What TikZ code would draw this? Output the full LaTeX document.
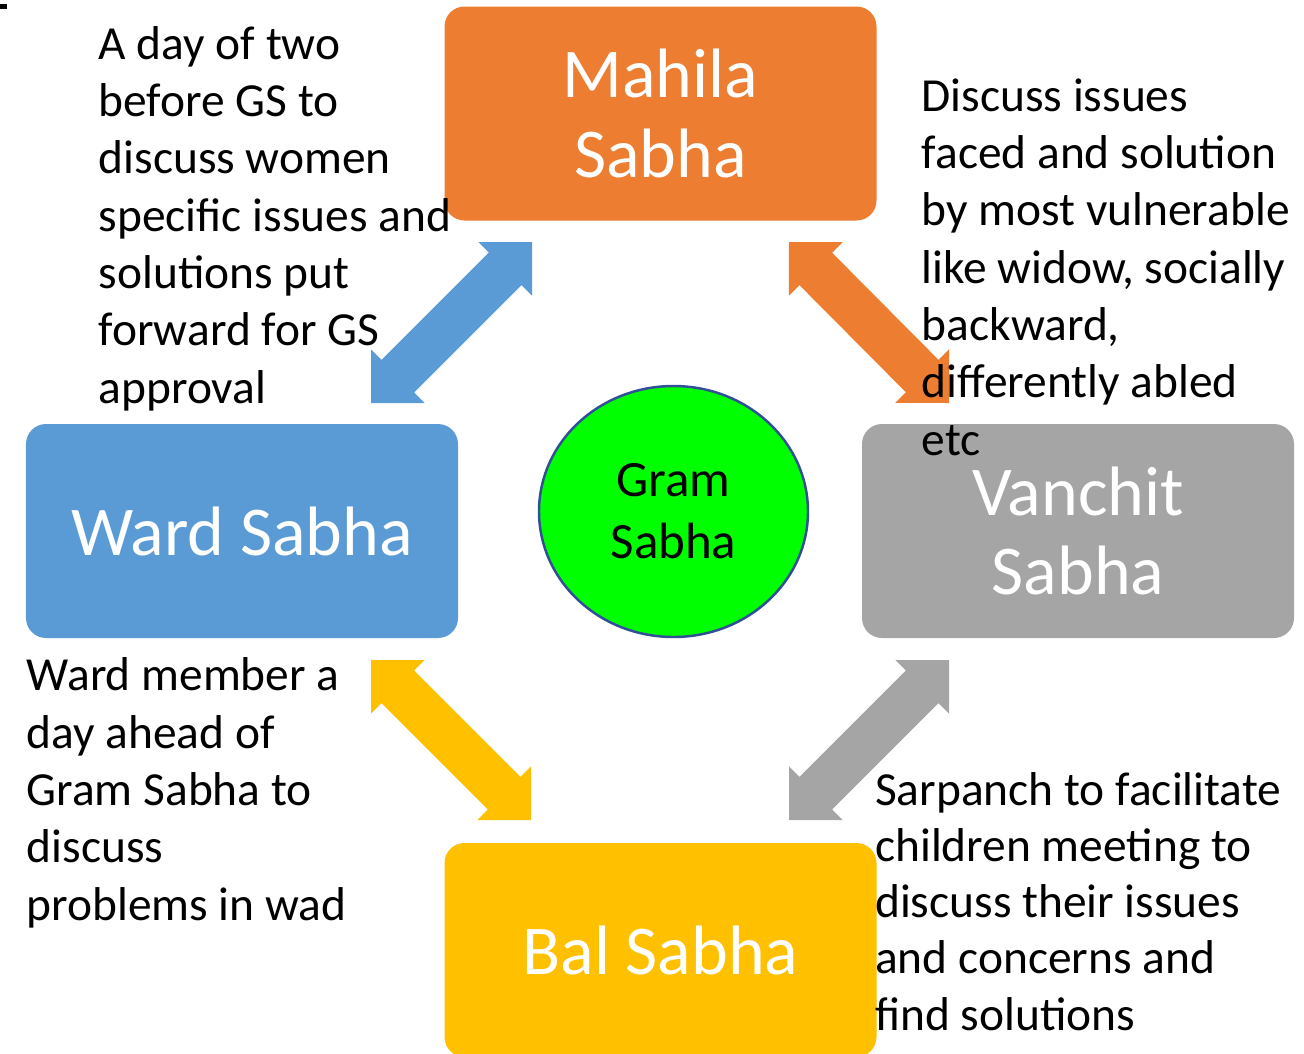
\documentclass[tikz,border=0pt]{standalone}
\usepackage{fontspec}
\setmainfont{Carlito}
\usetikzlibrary{shapes.geometric, calc}

\definecolor{mahila}{HTML}{ED7D31}
\definecolor{ward}{HTML}{5B9BD5}
\definecolor{vanchit}{HTML}{A5A5A5}
\definecolor{bal}{HTML}{FFC000}
\definecolor{hubfill}{HTML}{00FF00}
\definecolor{hubline}{HTML}{2F4F96}

% two-headed block arrow between two tip coordinates (right-angled heads)
\newcommand{\twoway}[3]{%
  \fill[#1] (#2) -- ($(#2)!0.537cm!45:(#3)$) -- ($(#2)!0.444cm!31.2:(#3)$)
    -- ($(#3)!0.444cm!-31.2:(#2)$) -- ($(#3)!0.537cm!-45:(#2)$) -- (#3)
    -- ($(#3)!0.537cm!45:(#2)$) -- ($(#3)!0.444cm!31.2:(#2)$)
    -- ($(#2)!0.444cm!-31.2:(#3)$) -- ($(#2)!0.537cm!-45:(#3)$) -- cycle;
}

\begin{document}
\begin{tikzpicture}[
    sabha/.style={rectangle, rounded corners=0.2cm, minimum width=4.32cm, minimum height=2.14cm, inner sep=0pt, align=center, text=white, font=\fontsize{19.9}{22.6}\selectfont},
    hub/.style={ellipse, draw=hubline, line width=0.7pt, fill=hubfill, minimum width=2.69cm, minimum height=2.51cm, inner sep=0pt, align=center, font=\fontsize{14.5}{17.6}\selectfont},
    note/.style={anchor=base west, inner sep=0pt, align=left, font=\fontsize{13.5}{16.3}\selectfont}
]
\useasboundingbox (0,0) rectangle (13.04,-10.53);
\fill (0,-0.04) rectangle (0.07,-0.09);

% the four sabhas
\node[sabha, fill=mahila] (mahila) at (6.605,-1.135) {Mahila\\Sabha};
\node[sabha, fill=ward] (ward) at (2.42,-5.31) {Ward Sabha};
\node[sabha, fill=vanchit] (vanchit) at (10.78,-5.31) {Vanchit\\Sabha};
\node[sabha, fill=bal] (bal) at (6.605,-9.50) {Bal Sabha};

% arrow tips
\coordinate (wm1) at (3.71,-4.03);
\coordinate (wm2) at (5.32,-2.42);
\coordinate (mv1) at (7.89,-2.42);
\coordinate (mv2) at (9.49,-4.03);
\coordinate (vb1) at (9.49,-6.60);
\coordinate (vb2) at (7.89,-8.20);
\coordinate (wb1) at (3.71,-6.60);
\coordinate (wb2) at (5.31,-8.20);

\twoway{ward}{wm1}{wm2}
\twoway{mahila}{mv1}{mv2}
\twoway{vanchit}{vb1}{vb2}
\twoway{bal}{wb1}{wb2}

\node[hub] (gram) at (6.735,-5.115) {Gram\\Sabha};

% notes beside each sabha (placed by their last baseline)
\node[note] (mahilanote) at (0.98,-4.03) {A day of two\\before GS to\\discuss women\\specific issues and\\solutions put\\forward for GS\\approval};
\node[note] (vanchitnote) at (9.21,-4.55) {Discuss issues\\faced and solution\\by most vulnerable\\like widow, socially\\backward,\\differently abled\\etc};
\node[note] (wardnote) at (0.26,-9.20) {Ward member a\\day ahead of\\Gram Sabha to\\discuss\\problems in wad};
\node[note, font=\fontsize{13.5}{16.0}\selectfont] (balnote) at (8.745,-10.30) {Sarpanch to facilitate\\children meeting to\\discuss their issues\\and concerns and\\find solutions};

\end{tikzpicture}
\end{document}
